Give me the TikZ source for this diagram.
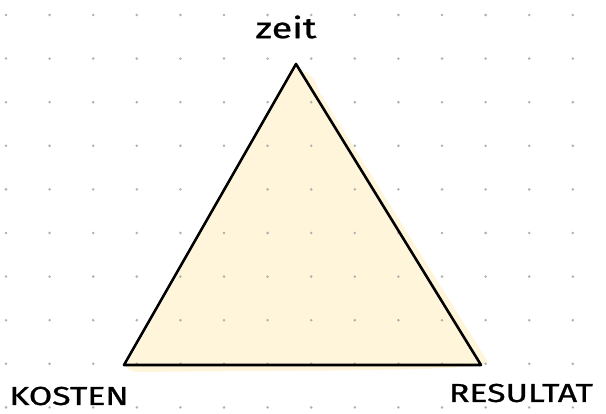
\documentclass[tikz,border=0pt]{standalone}
\usepackage{fontspec}
\setmainfont{Fira Sans}
\newfontfamily\handfont[FakeStretch=1.3,FakeBold=0.9]{Fira Sans}
\definecolor{cream}{HTML}{FFF5DA}
\definecolor{dotgray}{HTML}{B0B0B0}
\begin{document}
\begin{tikzpicture}[x=1pt,y=-1pt,
  lbl/.style={inner sep=0pt, font=\handfont\fontsize{26}{26}\selectfont, text=black},
  dotmark/.style={fill=dotgray, draw=none}]
\useasboundingbox (0,0) rectangle (606,414);
\fill[white] (0,0) rectangle (606,414);
% sketchy fill
\fill[cream] (300,70) .. controls (310,72) and (316,80) .. (318,90) -- (488,362) .. controls (480,372) and (300,370) .. (140,372) .. controls (132,372) and (128,370) .. (126,366) -- (296,64) -- cycle;
% dot grid
\foreach \i in {0,...,13}{
  \foreach \j in {0,...,9}{
    \fill[dotgray] ({6+43.6*\i},{15+43.6*\j}) circle (1.4);
  }
}
\coordinate (top) at (296,64);
\coordinate (left) at (124,365);
\coordinate (right) at (481,365);
\draw[line width=2.6pt, line join=round, line cap=round] (top) -- (right) -- (left) -- cycle;
\node[lbl, font=\handfont\fontsize{29}{29}\selectfont] (zeit) at (286,27) {zeit};
\node[lbl] (kosten) at (69,396) {KOSTEN};
\node[lbl] (resultat) at (521,393) {RESULTAT};
\end{tikzpicture}
\end{document}
